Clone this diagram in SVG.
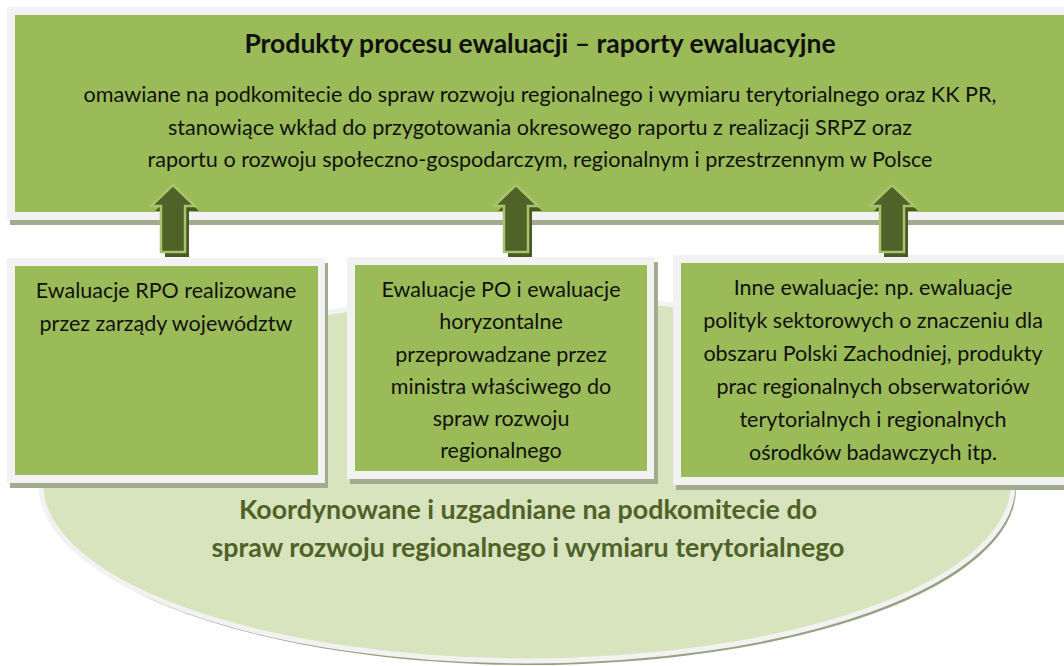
<svg xmlns="http://www.w3.org/2000/svg" width="1064" height="666" viewBox="0 0 1064 666">
<defs>
<style>
.outer{fill:#f2f2f2}
.inner{fill:#9bbb59}
.shadow{fill:#a3ab8e}
.t{font-family:Lato,"Open Sans","DejaVu Sans",sans-serif;fill:#111;text-anchor:middle}
.title{font-size:26.5px;font-weight:bold}
.body{font-size:21.6px}
.box{font-size:21.5px}
.oval{font-size:26.8px;font-weight:bold;fill:#4f6228}
.arrow{fill:#4f6228;stroke:#a9c46e;stroke-width:2.5}
.ashadow{fill:#4a5a25}
</style>
<polygon id="arr" points="0,185 22,206 12,206 12,252 -12,252 -12,206 -22,206"/>
</defs>
<rect width="1064" height="666" fill="#ffffff"/>

<g id="oval">
<path d="M44,489 A486,176 0 0 0 1016,489 A486,189 0 0 0 44,489 Z" fill="#98a282"/>
<path d="M41,485 A486,176 0 0 0 1013,485 A486,189 0 0 0 41,485 Z" fill="#d7e4bd" stroke="#f2f2f2" stroke-width="5"/>
<text class="t oval" x="528" y="519">Koordynowane i uzgadniane na podkomitecie do</text>
<text class="t oval" x="528" y="557">spraw rozwoju regionalnego i wymiaru terytorialnego</text>
</g>

<g id="top-box">
<rect class="shadow" x="10" y="12" width="1064" height="213"/>
<rect class="outer" x="7" y="7" width="1064" height="213"/>
<rect class="inner" x="15" y="15" width="1050" height="197"/>
<text class="t title" x="540" y="53">Produkty procesu ewaluacji – raporty ewaluacyjne</text>
<text class="t body" x="540" y="102">omawiane na podkomitecie do spraw rozwoju regionalnego i wymiaru terytorialnego oraz KK PR,</text>
<text class="t body" x="540" y="135">stanowiące wkład do przygotowania okresowego raportu z realizacji SRPZ oraz</text>
<text class="t body" x="540" y="167">raportu o rozwoju społeczno-gospodarczym, regionalnym i przestrzennym w Polsce</text>
</g>

<g id="box-rpo">
<rect class="shadow" x="10" y="263" width="318" height="225"/>
<rect class="outer" x="7" y="258" width="318" height="225"/>
<rect class="inner" x="15" y="266" width="303" height="209"/>
<text class="t box" x="166" y="298">Ewaluacje RPO realizowane</text>
<text class="t box" x="166" y="331">przez zarządy województw</text>
</g>

<g id="box-po">
<rect class="shadow" x="350" y="262" width="308" height="222"/>
<rect class="outer" x="347" y="257" width="307" height="222"/>
<rect class="inner" x="355" y="265" width="292" height="206"/>
<text class="t box" x="501" y="297">Ewaluacje PO i ewaluacje</text>
<text class="t box" x="501" y="329">horyzontalne</text>
<text class="t box" x="501" y="362">przeprowadzane przez</text>
<text class="t box" x="501" y="394">ministra właściwego do</text>
<text class="t box" x="501" y="426">spraw rozwoju</text>
<text class="t box" x="501" y="458">regionalnego</text>
</g>

<g id="box-inne">
<rect class="shadow" x="676" y="260" width="400" height="230"/>
<rect class="outer" x="673" y="255" width="400" height="230"/>
<rect class="inner" x="681" y="263" width="384" height="214"/>
<text class="t box" x="873" y="295">Inne ewaluacje: np. ewaluacje</text>
<text class="t box" x="873" y="328">polityk sektorowych o znaczeniu dla</text>
<text class="t box" x="873" y="361">obszaru Polski Zachodniej, produkty</text>
<text class="t box" x="873" y="394">prac regionalnych obserwatoriów</text>
<text class="t box" x="873" y="427">terytorialnych i regionalnych</text>
<text class="t box" x="873" y="460">ośrodków badawczych itp.</text>
</g>

<g id="connectors">
<use href="#arr" class="ashadow" x="177" y="5"/>
<use href="#arr" class="arrow" x="173" y="0"/>
<use href="#arr" class="ashadow" x="520" y="5"/>
<use href="#arr" class="arrow" x="516" y="0"/>
<use href="#arr" class="ashadow" x="896" y="5"/>
<use href="#arr" class="arrow" x="892" y="0"/>
</g>
</svg>
